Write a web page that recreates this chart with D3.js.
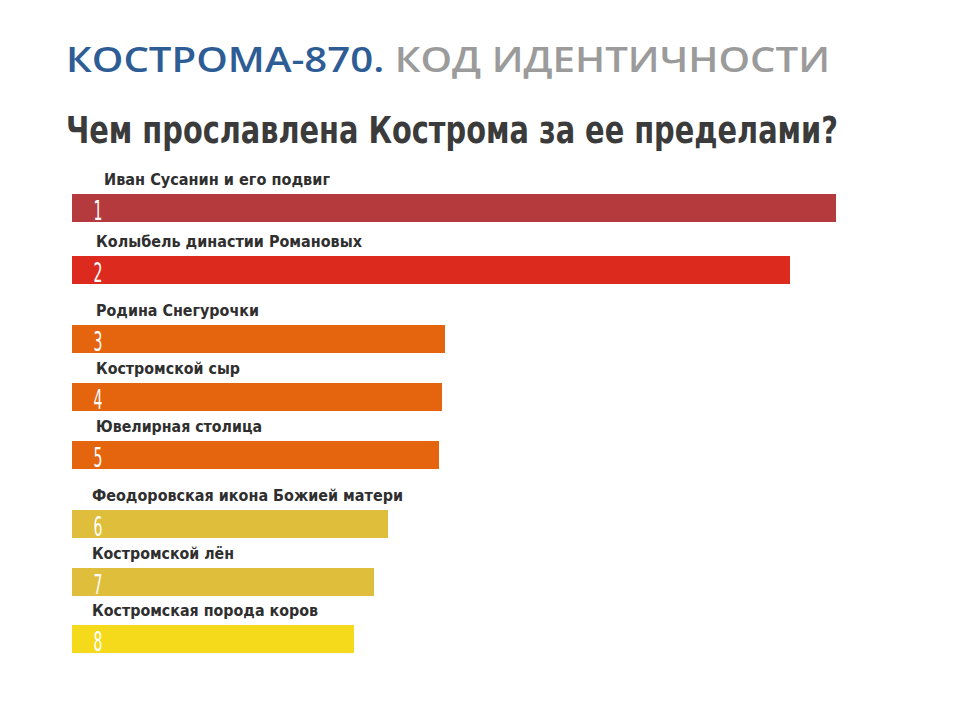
<!DOCTYPE html>
<html><head><meta charset="utf-8">
<script src="https://cdn.jsdelivr.net/npm/d3@7"></script>
<style>body{margin:0;background:#fff}</style>
</head><body>
<svg id="chart" width="960" height="724"></svg>
<script>
// data (relative bar lengths)
var labels = ["Иван Сусанин и его подвиг", "Колыбель династии Романовых", "Родина Снегурочки",
  "Костромской сыр", "Ювелирная столица", "Феодоровская икона Божией матери",
  "Костромской лён", "Костромская порода коров"];
var ranks = ["1", "2", "3", "4", "5", "6", "7", "8"];
var values = [764, 718, 373, 370, 367, 316, 302, 282];
var colors = ["#b53a3e", "#dc2a1f", "#e5650f", "#e5650f", "#e5650f", "#dfbe3c", "#dfbe3c", "#f5da1c"];
var barTops = [194, 256, 325, 383, 441, 510, 568, 625];
var labelX = [104, 96, 96, 96, 96, 92, 92, 92];
var labelW = [226, 266, 163, 144, 166, 311, 142, 226];

var svg = d3.select("#chart");
var x = d3.scaleLinear().domain([0, 764]).range([72, 836]);
var narrow = "'DejaVu Sans Condensed', 'Roboto Condensed', sans-serif";

svg.append("text").attr("x", 66).attr("y", 72)
  .attr("textLength", 764).attr("lengthAdjust", "spacingAndGlyphs")
  .style("font-family", "Open Sans").style("font-size", "35px").style("font-weight", "600")
  .call(t => {
    t.append("tspan").attr("fill", "#2e5d96").text("КОСТРОМА-870.");
    t.append("tspan").attr("fill", "#9b9b9b").text(" КОД ИДЕНТИЧНОСТИ");
  });
svg.append("text").attr("x", 66).attr("y", 143).attr("fill", "#3b3b3b")
  .attr("textLength", 772).attr("lengthAdjust", "spacingAndGlyphs")
  .style("font-family", narrow).style("font-size", "38px").style("font-weight", "bold")
  .text("Чем прославлена Кострома за ее пределами?");

var g = svg.selectAll("g.bar").data(values).enter().append("g");
g.append("rect").attr("x", x(0)).attr("y", (d, i) => barTops[i])
  .attr("width", d => x(d) - x(0)).attr("height", 28)
  .attr("fill", (d, i) => colors[i]);
g.append("text").attr("x", (d, i) => labelX[i]).attr("y", (d, i) => barTops[i] - 9)
  .attr("fill", "#2f2f2f")
  .attr("textLength", (d, i) => labelW[i]).attr("lengthAdjust", "spacingAndGlyphs")
  .style("font-family", narrow).style("font-size", "15px").style("font-weight", "bold")
  .text((d, i) => labels[i]);
g.append("text").attr("x", 0).attr("y", 0)
  .attr("transform", (d, i) => "translate(98," + (barTops[i] + 26) + ") scale(0.6,1)")
  .attr("fill", "#fff").attr("text-anchor", "middle")
  .style("font-family", narrow).style("font-size", "26px")
  .text((d, i) => ranks[i]);
</script>
</body></html>
